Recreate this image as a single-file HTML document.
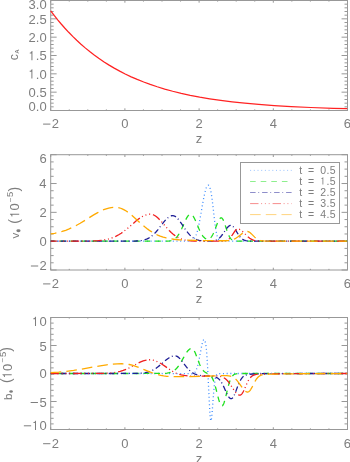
<!DOCTYPE html>
<html><head><meta charset="utf-8"><style>
html,body{margin:0;padding:0;background:#fff;width:350px;height:462px;overflow:hidden}
svg{display:block;will-change:transform}
text{font-family:"Liberation Sans",sans-serif;font-size:13.0px}
</style></head><body>
<svg width="350" height="462" viewBox="0 0 350 462">
<rect width="350" height="462" fill="#fff"/>
<g stroke="#989898" stroke-width="1.0" fill="none">
<rect x="50.7" y="0.5" width="296.8" height="110.0"/>
<path d="M50.70,110.5v-2.20M50.70,0.5v2.20M69.25,110.5v-1.10M69.25,0.5v1.10M87.80,110.5v-1.10M87.80,0.5v1.10M106.35,110.5v-1.10M106.35,0.5v1.10M124.90,110.5v-2.20M124.90,0.5v2.20M143.45,110.5v-1.10M143.45,0.5v1.10M162.00,110.5v-1.10M162.00,0.5v1.10M180.55,110.5v-1.10M180.55,0.5v1.10M199.10,110.5v-2.20M199.10,0.5v2.20M217.65,110.5v-1.10M217.65,0.5v1.10M236.20,110.5v-1.10M236.20,0.5v1.10M254.75,110.5v-1.10M254.75,0.5v1.10M273.30,110.5v-2.20M273.30,0.5v2.20M291.85,110.5v-1.10M291.85,0.5v1.10M310.40,110.5v-1.10M310.40,0.5v1.10M328.95,110.5v-1.10M328.95,0.5v1.10M347.50,110.5v-2.20M347.50,0.5v2.20M50.7,110.50h5.94M347.5,110.50h-5.94M50.7,106.83h2.97M347.5,106.83h-2.97M50.7,103.17h2.97M347.5,103.17h-2.97M50.7,99.50h2.97M347.5,99.50h-2.97M50.7,95.83h2.97M347.5,95.83h-2.97M50.7,92.17h5.94M347.5,92.17h-5.94M50.7,88.50h2.97M347.5,88.50h-2.97M50.7,84.83h2.97M347.5,84.83h-2.97M50.7,81.17h2.97M347.5,81.17h-2.97M50.7,77.50h2.97M347.5,77.50h-2.97M50.7,73.83h5.94M347.5,73.83h-5.94M50.7,70.17h2.97M347.5,70.17h-2.97M50.7,66.50h2.97M347.5,66.50h-2.97M50.7,62.83h2.97M347.5,62.83h-2.97M50.7,59.17h2.97M347.5,59.17h-2.97M50.7,55.50h5.94M347.5,55.50h-5.94M50.7,51.83h2.97M347.5,51.83h-2.97M50.7,48.17h2.97M347.5,48.17h-2.97M50.7,44.50h2.97M347.5,44.50h-2.97M50.7,40.83h2.97M347.5,40.83h-2.97M50.7,37.17h5.94M347.5,37.17h-5.94M50.7,33.50h2.97M347.5,33.50h-2.97M50.7,29.83h2.97M347.5,29.83h-2.97M50.7,26.17h2.97M347.5,26.17h-2.97M50.7,22.50h2.97M347.5,22.50h-2.97M50.7,18.83h5.94M347.5,18.83h-5.94M50.7,15.17h2.97M347.5,15.17h-2.97M50.7,11.50h2.97M347.5,11.50h-2.97M50.7,7.83h2.97M347.5,7.83h-2.97M50.7,4.17h2.97M347.5,4.17h-2.97M50.7,0.50h5.94M347.5,0.50h-5.94"/>
</g>
<g fill="#7e7e7e">
<text x="28.55 35.78 39.39" y="110.80">0.0</text>
<text x="28.59 35.82 39.43" y="96.90">0.5</text>
<path transform="translate(28.55,78.50) scale(0.01300,-0.01300)" d="M218,0H296V709H240C224,640 188,594 88,587V524H218Z"/>
<text x="35.78 39.39" y="78.50">.0</text>
<path transform="translate(28.59,60.30) scale(0.01300,-0.01300)" d="M218,0H296V709H240C224,640 188,594 88,587V524H218Z"/>
<text x="35.82 39.43" y="60.30">.5</text>
<text x="28.55 35.78 39.39" y="42.10">2.0</text>
<text x="28.59 35.82 39.43" y="23.90">2.5</text>
<text x="28.55 35.78 39.39" y="8.60">3.0</text>
<text x="51.74" y="128.20">2</text>
<rect x="43.09" y="123.60" width="7.3" height="1.0" fill="#7e7e7e"/>
<text x="121.29" y="128.20">0</text>
<text x="195.49" y="128.20">2</text>
<text x="269.73" y="128.20">4</text>
<text x="343.85" y="128.20">6</text>
</g>
<g stroke="#989898" stroke-width="1.0" fill="none">
<rect x="50.7" y="154.7" width="296.8" height="115.30000000000001"/>
<path d="M50.70,270.0v-2.31M50.70,154.7v2.31M69.25,270.0v-1.15M69.25,154.7v1.15M87.80,270.0v-1.15M87.80,154.7v1.15M106.35,270.0v-1.15M106.35,154.7v1.15M124.90,270.0v-2.31M124.90,154.7v2.31M143.45,270.0v-1.15M143.45,154.7v1.15M162.00,270.0v-1.15M162.00,154.7v1.15M180.55,270.0v-1.15M180.55,154.7v1.15M199.10,270.0v-2.31M199.10,154.7v2.31M217.65,270.0v-1.15M217.65,154.7v1.15M236.20,270.0v-1.15M236.20,154.7v1.15M254.75,270.0v-1.15M254.75,154.7v1.15M273.30,270.0v-2.31M273.30,154.7v2.31M291.85,270.0v-1.15M291.85,154.7v1.15M310.40,270.0v-1.15M310.40,154.7v1.15M328.95,270.0v-1.15M328.95,154.7v1.15M347.50,270.0v-2.31M347.50,154.7v2.31M50.7,270.00h5.94M347.5,270.00h-5.94M50.7,262.79h2.97M347.5,262.79h-2.97M50.7,255.59h2.97M347.5,255.59h-2.97M50.7,248.38h2.97M347.5,248.38h-2.97M50.7,241.18h5.94M347.5,241.18h-5.94M50.7,233.97h2.97M347.5,233.97h-2.97M50.7,226.76h2.97M347.5,226.76h-2.97M50.7,219.56h2.97M347.5,219.56h-2.97M50.7,212.35h5.94M347.5,212.35h-5.94M50.7,205.14h2.97M347.5,205.14h-2.97M50.7,197.94h2.97M347.5,197.94h-2.97M50.7,190.73h2.97M347.5,190.73h-2.97M50.7,183.52h5.94M347.5,183.52h-5.94M50.7,176.32h2.97M347.5,176.32h-2.97M50.7,169.11h2.97M347.5,169.11h-2.97M50.7,161.91h2.97M347.5,161.91h-2.97M50.7,154.70h5.94M347.5,154.70h-5.94"/>
</g>
<g fill="#7e7e7e">
<text x="39.54" y="270.10">2</text>
<rect x="30.89" y="265.50" width="7.3" height="1.0" fill="#7e7e7e"/>
<text x="39.39" y="246.10">0</text>
<text x="39.54" y="217.30">2</text>
<text x="39.26" y="188.30">4</text>
<text x="39.46" y="163.20">6</text>
<text x="51.74" y="288.00">2</text>
<rect x="43.09" y="283.40" width="7.3" height="1.0" fill="#7e7e7e"/>
<text x="121.29" y="288.00">0</text>
<text x="195.49" y="288.00">2</text>
<text x="269.73" y="288.00">4</text>
<text x="343.85" y="288.00">6</text>
</g>
<g stroke="#989898" stroke-width="1.0" fill="none">
<rect x="50.7" y="317.5" width="296.8" height="112.0"/>
<path d="M50.70,429.5v-2.24M50.70,317.5v2.24M69.25,429.5v-1.12M69.25,317.5v1.12M87.80,429.5v-1.12M87.80,317.5v1.12M106.35,429.5v-1.12M106.35,317.5v1.12M124.90,429.5v-2.24M124.90,317.5v2.24M143.45,429.5v-1.12M143.45,317.5v1.12M162.00,429.5v-1.12M162.00,317.5v1.12M180.55,429.5v-1.12M180.55,317.5v1.12M199.10,429.5v-2.24M199.10,317.5v2.24M217.65,429.5v-1.12M217.65,317.5v1.12M236.20,429.5v-1.12M236.20,317.5v1.12M254.75,429.5v-1.12M254.75,317.5v1.12M273.30,429.5v-2.24M273.30,317.5v2.24M291.85,429.5v-1.12M291.85,317.5v1.12M310.40,429.5v-1.12M310.40,317.5v1.12M328.95,429.5v-1.12M328.95,317.5v1.12M347.50,429.5v-2.24M347.50,317.5v2.24M50.7,429.50h5.94M347.5,429.50h-5.94M50.7,423.90h2.97M347.5,423.90h-2.97M50.7,418.30h2.97M347.5,418.30h-2.97M50.7,412.70h2.97M347.5,412.70h-2.97M50.7,407.10h2.97M347.5,407.10h-2.97M50.7,401.50h5.94M347.5,401.50h-5.94M50.7,395.90h2.97M347.5,395.90h-2.97M50.7,390.30h2.97M347.5,390.30h-2.97M50.7,384.70h2.97M347.5,384.70h-2.97M50.7,379.10h2.97M347.5,379.10h-2.97M50.7,373.50h5.94M347.5,373.50h-5.94M50.7,367.90h2.97M347.5,367.90h-2.97M50.7,362.30h2.97M347.5,362.30h-2.97M50.7,356.70h2.97M347.5,356.70h-2.97M50.7,351.10h2.97M347.5,351.10h-2.97M50.7,345.50h5.94M347.5,345.50h-5.94M50.7,339.90h2.97M347.5,339.90h-2.97M50.7,334.30h2.97M347.5,334.30h-2.97M50.7,328.70h2.97M347.5,328.70h-2.97M50.7,323.10h2.97M347.5,323.10h-2.97M50.7,317.50h5.94M347.5,317.50h-5.94"/>
</g>
<g fill="#7e7e7e">
<path transform="translate(32.16,429.90) scale(0.01300,-0.01300)" d="M218,0H296V709H240C224,640 188,594 88,587V524H218Z"/>
<text x="39.39" y="429.90">0</text>
<rect x="23.85" y="425.30" width="7.3" height="1.0" fill="#7e7e7e"/>
<text x="39.43" y="406.60">5</text>
<rect x="30.65" y="402.00" width="7.3" height="1.0" fill="#7e7e7e"/>
<text x="39.39" y="378.40">0</text>
<text x="39.43" y="350.60">5</text>
<path transform="translate(32.16,326.00) scale(0.01300,-0.01300)" d="M218,0H296V709H240C224,640 188,594 88,587V524H218Z"/>
<text x="39.39" y="326.00">0</text>
<text x="51.74" y="447.80">2</text>
<rect x="43.09" y="443.20" width="7.3" height="1.0" fill="#7e7e7e"/>
<text x="121.29" y="447.80">0</text>
<text x="195.49" y="447.80">2</text>
<text x="269.73" y="447.80">4</text>
<text x="343.85" y="447.80">6</text>
</g>
<text x="195.85" y="142.8" fill="#7e7e7e">z</text>
<text x="195.85" y="302.6" fill="#7e7e7e">z</text>
<text x="195.85" y="462.5" fill="#7e7e7e">z</text>
<path d="M50.7,10.83 54.2,15.42 57.7,19.80 61.2,23.98 64.7,27.97 68.7,32.30 72.7,36.40 76.7,40.29 80.7,43.98 85.2,47.89 89.7,51.58 94.2,55.04 98.7,58.31 103.7,61.71 108.7,64.89 114.2,68.15 119.7,71.17 125.2,73.98 131.2,76.82 137.2,79.43 143.7,82.04 150.2,84.43 157.2,86.77 164.7,89.06 172.7,91.25 181.2,93.33 190.2,95.29 199.7,97.12 209.7,98.81 220.7,100.42 232.2,101.87 244.7,103.20 258.7,104.46 274.2,105.60 291.2,106.60 310.7,107.50 333.2,108.29 347.2,108.67" fill="none" stroke="#f22" stroke-width="1.25"/>
<path d="M50.7,241.20 187.2,241.17 189.2,241.07 190.7,240.84 191.7,240.54 192.2,240.31 192.7,240.02 193.2,239.65 193.7,239.19 194.2,238.61 194.7,237.91 195.2,237.06 195.7,236.04 196.2,234.84 196.7,233.44 197.2,231.83 197.7,230.00 198.2,227.96 198.7,225.71 199.2,223.26 199.7,220.64 200.2,217.88 200.7,215.01 202.2,206.23 202.7,203.41 203.2,200.71 203.7,198.16 204.2,195.79 204.7,193.59 205.2,191.57 205.7,189.72 206.2,188.04 206.7,186.74 207.2,185.84 207.7,185.31 208.2,185.16 208.7,185.38 209.2,186.00 209.7,187.06 210.2,188.61 210.7,190.67 211.2,193.26 211.7,196.38 212.2,200.02 212.7,204.09 213.2,208.45 214.2,217.36 214.7,221.58 215.2,225.45 215.7,228.87 216.2,231.80 216.7,234.22 217.2,236.16 217.7,237.65 218.2,238.77 218.7,239.58 219.2,240.15 219.7,240.54 220.2,240.79 220.7,240.96 221.7,241.12 224.2,241.20 347.2,241.20" fill="none" stroke="#3c8cff" stroke-width="1.3" stroke-dasharray="1 2.7" stroke-dashoffset="0"/>
<path d="M50.7,241.20 164.2,241.17 167.7,241.05 169.7,240.84 171.2,240.54 172.7,240.05 173.7,239.58 174.7,238.96 175.7,238.17 176.7,237.17 177.7,235.95 178.7,234.49 179.7,232.79 180.7,230.88 181.7,228.78 183.2,225.40 184.7,221.98 185.7,219.83 186.2,218.84 186.7,217.91 187.2,217.07 187.7,216.32 188.2,215.68 188.7,215.14 189.2,214.73 189.7,214.45 190.2,214.29 190.7,214.27 191.2,214.39 191.7,214.66 192.2,215.07 192.7,215.61 193.2,216.28 193.7,217.07 194.2,217.95 194.7,218.93 195.2,219.98 196.2,222.25 198.7,228.21 199.7,230.45 200.7,232.49 201.2,233.42 201.7,234.29 202.2,235.09 202.7,235.81 203.2,236.47 203.7,237.06 204.2,237.58 204.7,238.02 205.2,238.40 205.7,238.71 206.2,238.95 206.7,239.12 207.2,239.22 207.7,239.24 208.2,239.19 208.7,239.06 209.2,238.84 209.7,238.54 210.2,238.15 210.7,237.67 211.2,237.08 211.7,236.39 212.2,235.61 212.7,234.72 213.2,233.73 213.7,232.65 214.2,231.49 215.2,228.98 217.2,223.73 217.7,222.51 218.2,221.38 218.7,220.37 219.2,219.50 219.7,218.80 220.2,218.28 220.7,217.95 221.2,217.83 221.7,217.94 222.2,218.34 222.7,219.00 223.2,219.91 223.7,221.03 224.2,222.32 224.7,223.74 225.7,226.82 226.7,229.91 227.2,231.38 227.7,232.77 228.2,234.04 228.7,235.20 229.2,236.23 229.7,237.13 230.2,237.91 230.7,238.58 231.2,239.13 231.7,239.59 232.2,239.96 232.7,240.26 233.7,240.68 234.7,240.92 236.2,241.10 239.7,241.19 347.2,241.20" fill="none" stroke="#1ee01e" stroke-width="1.3" stroke-dasharray="5.6 5" stroke-dashoffset="1.5"/>
<path d="M50.7,241.20 129.7,241.17 135.7,241.02 139.2,240.77 141.7,240.42 143.7,240.00 145.7,239.40 147.2,238.80 148.7,238.06 150.2,237.15 151.7,236.06 153.2,234.79 154.7,233.34 156.2,231.71 158.2,229.31 161.7,224.75 163.7,222.18 165.2,220.39 166.7,218.80 167.7,217.88 168.7,217.10 169.7,216.48 170.7,216.03 171.7,215.75 172.7,215.66 173.2,215.69 173.7,215.78 174.7,216.14 175.7,216.74 176.7,217.55 177.7,218.55 178.7,219.72 180.2,221.72 182.2,224.66 185.2,229.17 186.7,231.27 188.2,233.18 189.7,234.86 191.2,236.29 192.7,237.49 194.2,238.45 195.7,239.21 197.2,239.79 199.2,240.33 201.7,240.76 204.7,241.01 208.7,241.11 211.7,241.00 213.7,240.76 215.2,240.40 216.7,239.82 217.7,239.28 218.7,238.59 219.7,237.73 220.7,236.70 221.7,235.50 222.7,234.16 226.2,229.04 227.2,227.75 227.7,227.18 228.2,226.67 228.7,226.24 229.2,225.89 229.7,225.63 230.2,225.46 230.7,225.38 231.2,225.41 231.7,225.55 232.2,225.82 232.7,226.19 233.2,226.67 233.7,227.25 234.2,227.90 235.2,229.39 238.2,234.34 239.2,235.81 240.2,237.10 241.2,238.18 242.2,239.04 243.2,239.70 244.2,240.19 245.7,240.68 247.2,240.95 249.7,241.13 257.2,241.20 347.2,241.20" fill="none" stroke="#1e1e96" stroke-width="1.3" stroke-dasharray="5.5 2.6 1 2.9" stroke-dashoffset="2"/>
<path d="M50.7,241.20 84.2,241.15 92.7,240.98 98.2,240.67 102.2,240.25 105.7,239.67 108.7,238.98 111.2,238.23 113.7,237.29 116.2,236.16 118.7,234.81 121.2,233.24 123.7,231.46 126.7,229.10 130.7,225.66 135.7,221.31 138.2,219.30 140.2,217.86 142.2,216.60 143.7,215.81 145.2,215.16 146.7,214.67 148.2,214.34 149.7,214.19 150.7,214.19 151.7,214.32 152.7,214.59 153.7,214.99 154.7,215.52 156.2,216.52 157.7,217.76 159.2,219.19 161.2,221.32 167.2,228.25 169.2,230.43 171.2,232.42 173.2,234.19 174.7,235.35 176.2,236.38 178.2,237.55 180.2,238.48 182.2,239.22 184.7,239.91 187.2,240.38 190.2,240.75 194.2,241.01 201.2,241.16 220.7,241.18 223.2,241.07 224.7,240.89 226.2,240.51 227.2,240.10 228.2,239.51 229.2,238.71 230.2,237.69 231.2,236.45 232.2,235.03 234.2,232.04 235.2,230.72 235.7,230.17 236.2,229.71 236.7,229.36 237.2,229.13 237.7,229.02 238.2,229.02 239.2,229.22 240.2,229.65 241.2,230.29 242.2,231.09 243.7,232.53 246.7,235.62 248.2,237.02 249.7,238.21 251.2,239.15 252.7,239.86 254.2,240.36 255.7,240.70 257.7,240.97 261.2,241.15 274.7,241.20 347.2,241.20" fill="none" stroke="#f01e1e" stroke-width="1.3" stroke-dasharray="8.4 2.6 1 2.8 1 2.8 1 2.9" stroke-dashoffset="2.4"/>
<path d="M50.7,233.95 54.7,233.28 58.7,232.41 62.2,231.44 65.7,230.27 69.2,228.89 72.7,227.31 76.2,225.52 80.2,223.27 85.7,219.90 93.7,214.90 97.7,212.60 100.7,211.05 103.7,209.72 106.2,208.81 108.7,208.10 111.2,207.61 113.7,207.35 116.2,207.34 117.7,207.49 119.2,207.79 120.7,208.24 122.2,208.83 124.2,209.83 126.2,211.04 128.2,212.44 130.7,214.41 133.7,216.99 141.7,224.23 144.7,226.79 147.7,229.15 150.2,230.92 152.7,232.51 155.2,233.90 157.7,235.11 160.2,236.13 163.2,237.15 166.2,237.95 169.7,238.67 173.7,239.26 178.7,239.74 185.2,240.12 195.7,240.43 219.2,240.76 225.2,240.74 228.2,240.58 230.2,240.32 231.7,239.99 233.2,239.52 234.7,238.87 236.2,238.03 237.7,237.01 240.7,234.64 242.7,233.12 243.7,232.49 244.7,231.98 245.7,231.63 246.7,231.46 247.2,231.45 247.7,231.50 248.2,231.62 248.7,231.81 249.2,232.08 250.2,232.77 251.2,233.65 254.7,237.15 255.7,238.03 256.7,238.78 257.7,239.40 258.7,239.88 260.2,240.40 261.7,240.72 263.7,240.94 267.7,241.07 330.2,241.18 347.2,241.19" fill="none" stroke="#ffaa00" stroke-width="1.3" stroke-dasharray="10.6 5.1" stroke-dashoffset="4.8"/>
<path d="M50.7,373.50 184.7,373.53 188.7,373.67 191.2,373.80 192.2,373.74 192.7,373.66 193.2,373.51 193.7,373.28 194.2,372.95 194.7,372.49 195.2,371.88 195.7,371.09 196.2,370.09 196.7,368.87 197.2,367.41 197.7,365.70 198.2,363.73 198.7,361.53 199.2,359.11 199.7,356.53 201.2,348.43 201.7,345.91 202.2,343.67 202.7,341.81 203.2,340.44 203.7,339.68 204.2,339.60 204.7,340.29 205.2,341.77 205.7,344.08 206.2,347.37 206.7,352.75 207.2,360.18 207.7,369.22 208.2,379.29 208.7,389.77 209.2,400.04 209.7,409.55 210.2,417.26 210.7,420.88 211.2,420.60 211.7,417.16 212.2,411.58 212.7,404.92 213.2,398.10 213.7,391.82 214.2,386.50 214.7,382.29 215.2,379.17 215.7,377.00 216.2,375.56 216.7,374.66 217.2,374.12 217.7,373.82 218.2,373.66 219.2,373.53 251.7,373.50 347.2,373.50" fill="none" stroke="#3c8cff" stroke-width="1.3" stroke-dasharray="1 2.7" stroke-dashoffset="0"/>
<path d="M50.7,373.50 160.7,373.47 164.7,373.34 167.2,373.10 169.2,372.74 170.7,372.31 172.2,371.68 173.7,370.82 174.7,370.09 175.7,369.22 176.7,368.20 177.7,367.02 178.7,365.69 179.7,364.22 181.2,361.79 183.7,357.38 185.2,354.76 186.2,353.14 187.2,351.68 187.7,351.03 188.2,350.44 188.7,349.91 189.2,349.46 189.7,349.08 190.2,348.78 190.7,348.56 191.2,348.43 191.7,348.38 192.2,348.47 192.7,348.76 193.2,349.25 193.7,349.91 194.2,350.74 194.7,351.71 195.2,352.81 195.7,354.02 196.7,356.63 198.2,360.69 199.2,363.26 199.7,364.46 200.2,365.58 200.7,366.62 201.2,367.56 201.7,368.43 202.2,369.20 202.7,369.88 203.2,370.49 203.7,371.02 204.2,371.48 205.2,372.23 206.7,373.06 208.7,374.07 209.7,374.76 210.2,375.19 210.7,375.71 211.2,376.32 211.7,377.04 212.2,377.89 212.7,378.87 213.2,379.99 213.7,381.26 214.2,382.68 214.7,384.25 215.2,385.95 215.7,387.76 216.2,389.67 217.7,395.64 218.2,397.58 218.7,399.42 219.2,401.10 219.7,402.59 220.2,403.84 220.7,404.81 221.2,405.48 221.7,405.82 222.2,405.83 222.7,405.46 223.2,404.73 223.7,403.66 224.2,402.29 224.7,400.66 225.2,398.82 225.7,396.83 227.2,390.52 227.7,388.47 228.2,386.51 228.7,384.68 229.2,382.99 229.7,381.46 230.2,380.10 230.7,378.91 231.2,377.89 231.7,377.01 232.2,376.28 232.7,375.67 233.2,375.18 233.7,374.78 234.2,374.47 235.2,374.03 236.2,373.78 237.7,373.60 241.2,373.51 347.2,373.50" fill="none" stroke="#1ee01e" stroke-width="1.3" stroke-dasharray="5.6 5" stroke-dashoffset="2.3"/>
<path d="M50.7,373.50 132.7,373.47 138.7,373.32 142.2,373.07 145.2,372.66 147.7,372.11 149.7,371.50 151.7,370.71 153.7,369.72 155.7,368.51 157.7,367.09 160.2,365.08 165.7,360.28 167.7,358.71 169.2,357.70 170.7,356.87 172.2,356.28 173.7,355.93 174.7,355.86 175.7,355.92 176.2,356.04 177.2,356.45 178.2,357.09 179.2,357.93 180.2,358.95 181.7,360.73 184.2,364.04 186.2,366.67 187.7,368.49 189.2,370.09 190.7,371.46 192.2,372.59 193.7,373.48 195.2,374.18 196.7,374.70 198.7,375.21 201.2,375.61 205.2,375.97 211.7,376.35 213.7,376.60 215.2,376.95 216.2,377.31 217.2,377.81 218.2,378.49 219.2,379.38 219.7,379.92 220.2,380.53 220.7,381.20 221.2,381.94 221.7,382.75 222.2,383.62 223.2,385.56 224.2,387.69 226.2,392.17 227.2,394.28 227.7,395.23 228.2,396.10 228.7,396.87 229.2,397.52 229.7,398.03 230.2,398.41 230.7,398.63 231.2,398.69 231.7,398.58 232.2,398.27 232.7,397.77 233.2,397.09 233.7,396.25 234.2,395.27 234.7,394.16 235.2,392.96 236.2,390.37 237.7,386.38 238.7,383.89 239.2,382.74 239.7,381.67 240.2,380.69 240.7,379.80 241.2,378.99 241.7,378.28 242.2,377.64 242.7,377.09 243.2,376.61 243.7,376.20 244.7,375.55 245.7,375.08 247.2,374.63 249.2,374.30 252.7,374.02 260.7,373.71 272.7,373.54 347.2,373.50" fill="none" stroke="#1e1e96" stroke-width="1.3" stroke-dasharray="5.5 2.6 1 2.9" stroke-dashoffset="2"/>
<path d="M50.7,373.50 97.7,373.46 105.2,373.30 110.2,373.01 114.2,372.57 117.2,372.06 120.2,371.35 123.2,370.43 126.2,369.26 129.2,367.88 133.2,365.79 138.2,363.10 140.7,361.90 143.2,360.90 145.2,360.30 147.2,359.91 148.7,359.77 150.2,359.77 151.7,359.91 153.2,360.19 155.2,360.77 157.2,361.57 159.2,362.57 161.7,364.05 165.2,366.39 170.2,369.85 172.7,371.42 174.7,372.52 176.7,373.45 178.7,374.19 181.2,374.85 184.2,375.43 187.7,375.88 191.7,376.15 196.7,376.26 204.7,376.14 214.7,375.89 217.7,375.98 219.7,376.22 221.2,376.57 222.7,377.11 223.7,377.60 224.7,378.23 225.7,379.00 226.7,379.91 227.7,380.99 228.7,382.21 229.7,383.56 231.2,385.80 233.7,389.69 234.7,391.16 235.7,392.47 236.7,393.59 237.2,394.05 237.7,394.44 238.2,394.76 238.7,394.99 239.2,395.14 239.7,395.21 240.2,395.18 240.7,394.99 241.2,394.63 241.7,394.11 242.2,393.45 242.7,392.65 243.2,391.74 243.7,390.73 244.7,388.53 246.7,383.95 247.7,381.86 248.2,380.90 248.7,380.02 249.2,379.22 249.7,378.49 250.2,377.83 250.7,377.26 251.2,376.75 251.7,376.31 252.7,375.61 253.7,375.12 254.7,374.77 256.2,374.45 258.7,374.21 266.2,373.98 286.7,373.68 317.7,373.53 347.2,373.50" fill="none" stroke="#f01e1e" stroke-width="1.3" stroke-dasharray="8.4 2.6 1 2.8 1 2.8 1 2.9" stroke-dashoffset="0"/>
<path d="M50.7,372.70 58.7,372.14 66.2,371.40 73.7,370.41 81.7,369.13 100.2,365.79 106.7,364.81 112.2,364.18 117.2,363.84 121.7,363.74 124.2,363.81 126.7,364.06 129.2,364.50 132.2,365.24 135.7,366.35 140.2,368.05 149.7,371.94 153.7,373.41 157.2,374.51 160.7,375.38 163.7,375.94 166.7,376.30 171.7,376.58 178.7,376.72 189.2,376.63 206.2,376.18 223.7,375.63 226.7,375.66 228.7,375.83 230.2,376.11 231.7,376.56 232.7,377.00 233.7,377.56 234.7,378.26 235.7,379.12 236.7,380.13 237.7,381.30 239.2,383.28 242.2,387.59 243.2,388.92 244.2,390.09 244.7,390.59 245.2,391.03 245.7,391.39 246.2,391.68 246.7,391.89 247.2,392.01 247.7,392.05 248.2,391.97 248.7,391.75 249.2,391.38 249.7,390.87 250.2,390.25 250.7,389.52 251.2,388.69 252.2,386.85 254.2,382.92 255.2,381.09 255.7,380.25 256.2,379.47 256.7,378.75 257.2,378.11 257.7,377.53 258.2,377.01 259.2,376.17 260.2,375.55 261.2,375.10 262.7,374.68 264.7,374.40 268.2,374.22 288.7,373.85 317.2,373.60 347.2,373.52" fill="none" stroke="#ffaa00" stroke-width="1.3" stroke-dasharray="10.6 5.1" stroke-dashoffset="0"/>
<rect x="240.5" y="162.5" width="99" height="61" fill="#fff" stroke="#989898" stroke-width="1"/>
<path d="M250.1,170.4H291.7" stroke="#3c8cff" stroke-width="1" stroke-dasharray="1 2.7" fill="none" opacity="0.5"/>
<text x="299.2" y="173.5" fill="#7e7e7e" style="font-size:10.5px">t</text>
<text x="308.1" y="173.5" fill="#7e7e7e" style="font-size:10.5px">=</text>
<g fill="#7e7e7e">
<text x="320.20 326.44 329.76" y="173.50" style="font-size:10.5px">0.5</text>
</g>
<path d="M250.1,181.5H291.7" stroke="#1ee01e" stroke-width="1" stroke-dasharray="5.6 5" fill="none" opacity="0.5"/>
<text x="299.2" y="184.6" fill="#7e7e7e" style="font-size:10.5px">t</text>
<text x="308.1" y="184.6" fill="#7e7e7e" style="font-size:10.5px">=</text>
<g fill="#7e7e7e">
<path transform="translate(320.20,184.60) scale(0.01050,-0.01050)" d="M218,0H296V709H240C224,640 188,594 88,587V524H218Z"/>
<text x="326.44 329.76" y="184.60" style="font-size:10.5px">.5</text>
</g>
<path d="M250.1,192.5H291.7" stroke="#1e1e96" stroke-width="1" stroke-dasharray="5.5 2.6 1 2.9" fill="none" opacity="0.5"/>
<text x="299.2" y="195.6" fill="#7e7e7e" style="font-size:10.5px">t</text>
<text x="308.1" y="195.6" fill="#7e7e7e" style="font-size:10.5px">=</text>
<g fill="#7e7e7e">
<text x="320.20 326.44 329.76" y="195.60" style="font-size:10.5px">2.5</text>
</g>
<path d="M250.1,203.6H291.7" stroke="#f01e1e" stroke-width="1" stroke-dasharray="8.4 2.6 1 2.8 1 2.8 1 2.9" fill="none" opacity="0.5"/>
<text x="299.2" y="206.7" fill="#7e7e7e" style="font-size:10.5px">t</text>
<text x="308.1" y="206.7" fill="#7e7e7e" style="font-size:10.5px">=</text>
<g fill="#7e7e7e">
<text x="320.20 326.44 329.76" y="206.70" style="font-size:10.5px">3.5</text>
</g>
<path d="M250.1,214.6H291.7" stroke="#ffaa00" stroke-width="1" stroke-dasharray="10.6 5.1" fill="none" opacity="0.5"/>
<text x="299.2" y="217.7" fill="#7e7e7e" style="font-size:10.5px">t</text>
<text x="308.1" y="217.7" fill="#7e7e7e" style="font-size:10.5px">=</text>
<g fill="#7e7e7e">
<text x="320.20 326.44 329.76" y="217.70" style="font-size:10.5px">4.5</text>
</g>
<g fill="#7e7e7e">
<text transform="rotate(-90)" x="-60.34" y="17.80" style="font-size:12.2px">c</text>
<text transform="rotate(-90)" x="-53.85" y="19.00" style="font-size:6px;font-weight:bold">A</text>
<text transform="rotate(-90)" x="-238.44" y="19.10" style="font-size:11.6px">v</text>
<text transform="rotate(-90)" x="-223.67" y="18.60" style="font-size:14px">(</text>
<path transform="rotate(-90) translate(-217.54,19.20) scale(0.01300,-0.01300)" d="M218,0H296V709H240C224,640 188,594 88,587V524H218Z"/>
<text transform="rotate(-90)" x="-210.56" y="19.20" style="font-size:13px">0</text>
<text transform="rotate(-90)" x="-202.17" y="12.90" style="font-size:8.3px">−</text>
<text transform="rotate(-90)" x="-197.08" y="13.40" style="font-size:9.5px">5</text>
<text transform="rotate(-90)" x="-191.53" y="18.60" style="font-size:14px">)</text>
<text transform="rotate(-90)" x="-400.11" y="11.70" style="font-size:11.8px">b</text>
<text transform="rotate(-90)" x="-383.12" y="11.40" style="font-size:14px">(</text>
<path transform="rotate(-90) translate(-378.04,11.70) scale(0.01300,-0.01300)" d="M218,0H296V709H240C224,640 188,594 88,587V524H218Z"/>
<text transform="rotate(-90)" x="-370.96" y="11.70" style="font-size:13px">0</text>
<text transform="rotate(-90)" x="-362.47" y="5.10" style="font-size:8.3px">−</text>
<text transform="rotate(-90)" x="-357.03" y="5.60" style="font-size:9.5px">5</text>
<text transform="rotate(-90)" x="-351.83" y="11.40" style="font-size:14px">)</text>
<ellipse cx="18.45" cy="230.7" rx="2.1" ry="1.45" fill="#7e7e7e"/>
<ellipse cx="11.1" cy="391.45" rx="1.8" ry="1.25" fill="#7e7e7e"/>
</g>
</svg>
</body></html>
